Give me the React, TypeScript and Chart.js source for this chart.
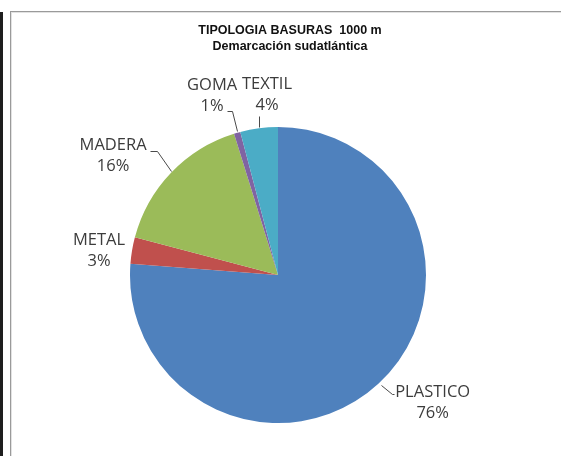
import React, { useEffect, useRef } from "react";
import { Chart, registerables } from "chart.js";

Chart.register(...registerables);

// ---- data ----
const categories = ["PLASTICO", "METAL", "MADERA", "GOMA", "TEXTIL"];
const values = [76.2, 2.9, 16.1, 0.7, 4.1];
const sliceColors = ["#4F81BD", "#C0504D", "#9BBB59", "#8064A2", "#4BACC6"];
const titleLines = ["TIPOLOGIA BASURAS  1000 m", "Demarcación sudatlántica"];

// ---- label placement (relative to each slice's outer mid point) ----
const labelLayout: { dx: number; dy: number; leader: number[][] }[] = [
  { dx: 54, dy: 19, leader: [[2, 1], [13, 10], [15, 10]] },
  { dx: -33, dy: 0, leader: [] },
  { dx: -58, dy: -17, leader: [[0, -2], [-14, -22], [-21, -22]] },
  { dx: -25, dy: -37, leader: [[0, -2], [-5, -22], [-10, -22]] },
  { dx: 8, dy: -33, leader: [[0, -1], [0, -12]] },
];

const W = 561;
const H = 456;
const TITLE_X = 290;

const labelPlugin = {
  id: "sliceLabels",
  afterDatasetsDraw(chart: any) {
    const ctx = chart.ctx as CanvasRenderingContext2D;
    const meta = chart.getDatasetMeta(0);
    const ds = chart.data.datasets[0].data as number[];
    const total = ds.reduce((a, b) => a + b, 0);
    ctx.save();
    meta.data.forEach((arc: any, i: number) => {
      const p = arc.getProps(["x", "y", "startAngle", "endAngle", "outerRadius"], true);
      const mid = (p.startAngle + p.endAngle) / 2;
      const ex = p.x + Math.cos(mid) * p.outerRadius;
      const ey = p.y + Math.sin(mid) * p.outerRadius;
      const lay = labelLayout[i];
      if (lay.leader.length > 1) {
        ctx.beginPath();
        ctx.strokeStyle = "#4a4a4a";
        ctx.lineWidth = 1;
        lay.leader.forEach((pt, k) => {
          const px = Math.round(ex + pt[0]) + 0.5;
          const py = Math.round(ey + pt[1]) + 0.5;
          if (k === 0) ctx.moveTo(px, py);
          else ctx.lineTo(px, py);
        });
        ctx.stroke();
      }
      const cx = ex + lay.dx;
      const cy = ey + lay.dy;
      ctx.fillStyle = "#3c3c3c";
      ctx.font = '16.5px "Open Sans"';
      ctx.textAlign = "center";
      ctx.textBaseline = "middle";
      ctx.fillText(chart.data.labels[i], cx, cy - 10.5);
      ctx.fillText(Math.round((ds[i] / total) * 100) + "%", cx, cy + 10.5);
    });
    ctx.restore();
  },
};

const titlePlugin = {
  id: "customTitle",
  afterDraw(chart: any) {
    const ctx = chart.ctx as CanvasRenderingContext2D;
    ctx.save();
    ctx.fillStyle = "#111111";
    ctx.font = 'bold 12.5px "Liberation Sans"';
    ctx.textAlign = "center";
    ctx.textBaseline = "middle";
    ctx.fillText(titleLines[0], TITLE_X, 31);
    ctx.fillText(titleLines[1], TITLE_X, 47);
    ctx.restore();
  },
};

export default function App() {
  const ref = useRef<HTMLCanvasElement | null>(null);

  useEffect(() => {
    if (!ref.current) return;
    const chart = new Chart(ref.current, {
      type: "pie",
      data: {
        labels: categories,
        datasets: [
          {
            data: values,
            backgroundColor: sliceColors,
            borderWidth: 0,
            hoverOffset: 0,
          },
        ],
      },
      options: {
        responsive: false,
        animation: false,
        devicePixelRatio: 1,
        layout: { padding: { left: 130, top: 127, right: 135, bottom: 33 } },
        plugins: {
          legend: { display: false },
          title: { display: false },
          tooltip: { enabled: false },
        },
        events: [],
      },
      plugins: [labelPlugin, titlePlugin],
    });
    return () => chart.destroy();
  }, []);

  return (
    <div
      style={{
        position: "absolute",
        left: 0,
        top: 0,
        width: W,
        height: H,
        overflow: "hidden",
        background: "#ffffff",
      }}
    >
      <div
        style={{
          position: "absolute",
          left: 0,
          top: 12,
          width: 3,
          height: H - 12,
          background: "#1e1e1e",
        }}
      />
      <div
        style={{
          position: "absolute",
          left: 10,
          top: 11,
          width: 620,
          height: 520,
          border: "1px solid #9a9a9a",
          boxShadow: "inset 1px 1px 0 #e2e2e2",
        }}
      />
      <canvas
        ref={ref}
        width={W}
        height={H}
        style={{ position: "absolute", left: 0, top: 0, width: W, height: H }}
      />
    </div>
  );
}
